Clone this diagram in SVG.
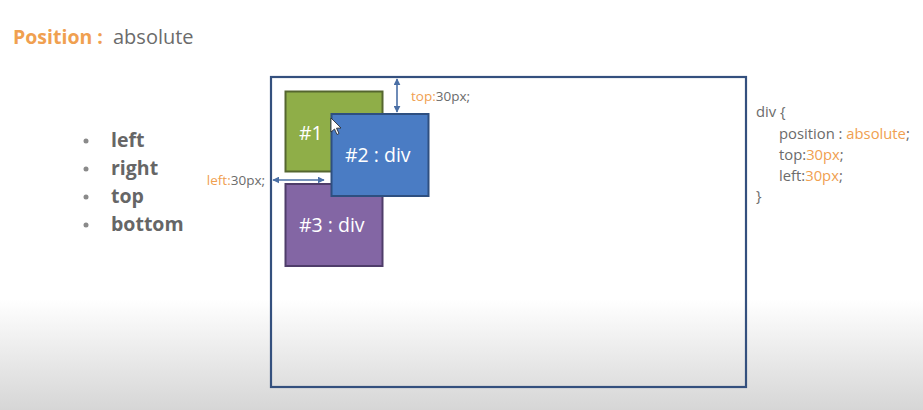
<svg xmlns="http://www.w3.org/2000/svg" width="923" height="410" viewBox="0 0 923 410">
<defs>
<linearGradient id="bg" x1="0" y1="0" x2="0" y2="1">
<stop offset="0" stop-color="#ffffff"/>
<stop offset="0.73" stop-color="#ffffff"/>
<stop offset="1" stop-color="#d6d6d6"/>
</linearGradient>
<marker id="ah" viewBox="0 0 10 10" refX="9" refY="5" markerWidth="7" markerHeight="7" orient="auto-start-reverse" markerUnits="userSpaceOnUse">
<path d="M0,0 L10,5 L0,10 z" fill="#4a6fa5"/>
</marker>
<style>
.t{font-family:"Open Sans",Lato,sans-serif;}
.or{fill:#f0a050;}
.gr{fill:#6b6b6b;}
.box{stroke-width:2;}
.wl{fill:#ffffff;font-size:19.5px;}
.code{font-size:14.8px;}
.bul{font-size:19.5px;font-weight:bold;fill:#666666;}
.conn{stroke:#4a6fa5;stroke-width:1.6;fill:none;}
</style>
</defs>
<rect width="923" height="410" fill="url(#bg)"/>
<text class="t" x="13" y="44" font-size="19.5"><tspan class="or" font-weight="bold">Position :</tspan><tspan class="gr" x="113" font-size="20">absolute</tspan></text>
<g id="bullets" class="t">
<circle cx="86" cy="141" r="2.5" fill="#8a8a8a"/>
<circle cx="86" cy="169" r="2.5" fill="#8a8a8a"/>
<circle cx="86" cy="197" r="2.5" fill="#8a8a8a"/>
<circle cx="86" cy="225" r="2.5" fill="#8a8a8a"/>
<text class="bul t" x="111" y="147">left</text>
<text class="bul t" x="111" y="175">right</text>
<text class="bul t" x="111" y="203">top</text>
<text class="bul t" x="111" y="231">bottom</text>
</g>
<g id="container">
<rect x="271" y="77" width="475" height="310" fill="none" stroke="#34507e" stroke-width="2.2"/>
</g>
<g id="box1">
<rect class="box" x="285.5" y="91.5" width="97" height="80" fill="#8fae48" stroke="#55662f"/>
<text class="t wl" x="299" y="140">#1</text>
</g>
<g id="box3">
<rect class="box" x="285.5" y="184" width="97" height="82" fill="#8366a4" stroke="#4f3d6a"/>
<text class="t wl" x="299" y="232">#3 : div</text>
</g>
<g id="box2">
<rect class="box" x="331.5" y="114" width="97" height="82" fill="#4a7cc4" stroke="#2e4f80"/>
<text class="t wl" x="345" y="162">#2 : div</text>
</g>
<g id="cursor">
<path d="M331,118 L331,132 L334.5,129 L337,134.5 L339,133.5 L336.5,128.2 L341,128 z" fill="#ffffff" stroke="#222222" stroke-width="0.8"/>
</g>
<g id="connectors">
<line class="conn" x1="397" y1="79" x2="397" y2="112" marker-start="url(#ah)" marker-end="url(#ah)"/>
<line class="conn" x1="273" y1="180" x2="324" y2="180" marker-start="url(#ah)" marker-end="url(#ah)"/>
</g>
<g id="labels" class="t" font-size="13.5">
<text x="411" y="101"><tspan class="or">top:</tspan><tspan class="gr">30px;</tspan></text>
<text x="265" y="185" text-anchor="end"><tspan class="or">left:</tspan><tspan class="gr">30px;</tspan></text>
</g>
<g id="code" class="t code">
<text class="gr" x="756" y="117">div {</text>
<text x="779" y="139"><tspan class="gr">position : </tspan><tspan class="or">absolute</tspan><tspan class="gr">;</tspan></text>
<text x="779" y="160"><tspan class="gr">top:</tspan><tspan class="or">30px</tspan><tspan class="gr">;</tspan></text>
<text x="779" y="181"><tspan class="gr">left:</tspan><tspan class="or">30px</tspan><tspan class="gr">;</tspan></text>
<text class="gr" x="756" y="201">}</text>
</g>
</svg>
